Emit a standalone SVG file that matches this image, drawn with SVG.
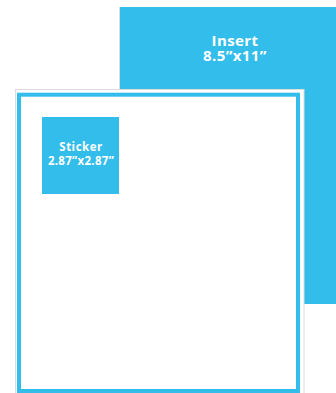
<svg xmlns="http://www.w3.org/2000/svg" width="336" height="393" viewBox="0 0 336 393">
  <style>
    .blue { fill: #33bdea; }
    .label { fill: #ffffff; font-family: "Open Sans", "Liberation Sans", sans-serif; font-weight: bold; text-anchor: middle; }
    .edge { fill: none; stroke: #dcdcdc; stroke-width: 1; }
  </style>
  <rect width="336" height="393" fill="#ffffff"/>
  <g id="insert">
    <rect class="blue" x="119" y="7" width="217" height="297"/>
    <line class="edge" x1="119.5" y1="7" x2="119.5" y2="90"/>
    <text class="label" x="235" y="45.7" font-size="15" letter-spacing="0.4">Insert</text>
    <text class="label" x="235" y="60.7" font-size="15" letter-spacing="0.4">8.5”x11”</text>
  </g>
  <g id="card">
    <rect x="15.5" y="89.5" width="288.5" height="305" fill="#ffffff" stroke="#dcdcdc" stroke-width="1"/>
    <rect x="19" y="94.7" width="279" height="296.3" fill="#ffffff" stroke="#33bdea" stroke-width="4"/>
  </g>
  <g id="sticker">
    <rect class="blue" x="42" y="117" width="77" height="77"/>
    <text class="label" x="81" y="150.5" font-size="11.5" letter-spacing="0.5">Sticker</text>
    <text class="label" x="81" y="164.5" font-size="11.5" letter-spacing="0.3">2.87”x2.87”</text>
  </g>
</svg>
